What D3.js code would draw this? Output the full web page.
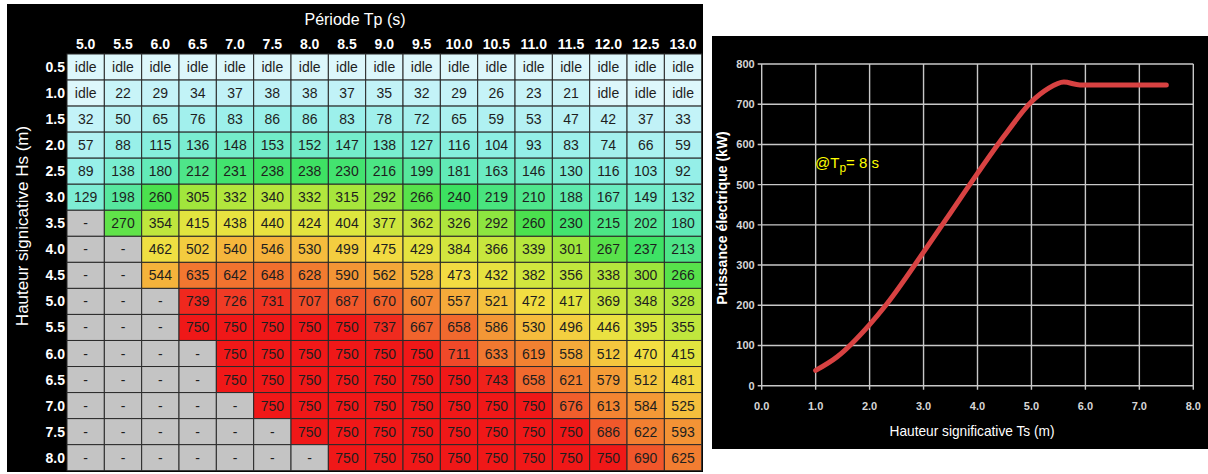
<!DOCTYPE html>
<html>
<head>
<meta charset="utf-8">
<script src="https://cdn.jsdelivr.net/npm/d3@7"></script>
<style>
  html, body { margin: 0; padding: 0; background: #ffffff; }
  svg { display: block; }
</style>
</head>
<body>
<svg id="chart" width="1208" height="474"></svg>
<script>
// ---------- DATA ----------
const periods = ["5.0","5.5","6.0","6.5","7.0","7.5","8.0","8.5","9.0","9.5","10.0","10.5","11.0","11.5","12.0","12.5","13.0"];
const heights = ["0.5","1.0","1.5","2.0","2.5","3.0","3.5","4.0","4.5","5.0","5.5","6.0","6.5","7.0","7.5","8.0"];
// "idle" = idle, "-" = not applicable
const powerRows = [
  ["idle","idle","idle","idle","idle","idle","idle","idle","idle","idle","idle","idle","idle","idle","idle","idle","idle"],
  ["idle",22,29,34,37,38,38,37,35,32,29,26,23,21,"idle","idle","idle"],
  [32,50,65,76,83,86,86,83,78,72,65,59,53,47,42,37,33],
  [57,88,115,136,148,153,152,147,138,127,116,104,93,83,74,66,59],
  [89,138,180,212,231,238,238,230,216,199,181,163,146,130,116,103,92],
  [129,198,260,305,332,340,332,315,292,266,240,219,210,188,167,149,132],
  ["-",270,354,415,438,440,424,404,377,362,326,292,260,230,215,202,180],
  ["-","-",462,502,540,546,530,499,475,429,384,366,339,301,267,237,213],
  ["-","-",544,635,642,648,628,590,562,528,473,432,382,356,338,300,266],
  ["-","-","-",739,726,731,707,687,670,607,557,521,472,417,369,348,328],
  ["-","-","-",750,750,750,750,750,737,667,658,586,530,496,446,395,355],
  ["-","-","-","-",750,750,750,750,750,750,711,633,619,558,512,470,415],
  ["-","-","-","-",750,750,750,750,750,750,750,743,658,621,579,512,481],
  ["-","-","-","-","-",750,750,750,750,750,750,750,750,676,613,584,525],
  ["-","-","-","-","-","-",750,750,750,750,750,750,750,750,686,622,593],
  ["-","-","-","-","-","-","-",750,750,750,750,750,750,750,750,690,625]
];

// Power curve at Tp = 8 s
const curveHs    = [1.0, 1.4, 2.0, 2.3, 3.0, 3.5, 4.0, 4.5, 5.0, 5.3, 5.6, 5.9, 6.5, 7.5];
const curvePower = [38,  72,  152, 200, 332, 430, 528, 622, 706, 738, 755, 748, 748, 748];
const powerTicks = [0,100,200,300,400,500,600,700,800];
const hsTicks    = [0,1,2,3,4,5,6,7,8];

// ---------- DRAW ----------
const svg = d3.select("#chart");
const font = "'Liberation Sans', Arial, sans-serif";

// ===== Left panel: table =====
svg.append("rect").attr("x", 7).attr("y", 4).attr("width", 696).attr("height", 468).attr("fill", "#000");

const colX = d3.scaleBand().domain(periods).range([67, 701.7]);
const rowY = d3.scaleBand().domain(heights).range([54, 470.7]);

const color = d3.scaleLinear()
  .domain([0, 40, 100, 180, 250, 300, 400, 470, 540, 630, 720, 750])
  .range(["#d4f6fa","#bff2f7","#8eefe6","#62eab8","#36e052","#9ee63c","#dce63e","#f2de42","#f5b63c","#f27a30","#f04428","#f01818"])
  .clamp(true);

const cells = [];
powerRows.forEach((row, i) => row.forEach((v, j) => cells.push({ hs: heights[i], tp: periods[j], v })));

const cellG = svg.append("g");
cellG.selectAll("rect").data(cells).join("rect")
  .attr("x", d => colX(d.tp))
  .attr("y", d => rowY(d.hs))
  .attr("width", colX.bandwidth())
  .attr("height", rowY.bandwidth())
  .attr("fill", d => d.v === "-" ? "#c4c4c4" : d.v === "idle" ? "#ddf7fb" : color(d.v))
  .attr("stroke", "#2a2a2a")
  .attr("stroke-width", 1);

cellG.selectAll("text").data(cells).join("text")
  .attr("x", d => colX(d.tp) + colX.bandwidth() / 2)
  .attr("y", d => rowY(d.hs) + rowY.bandwidth() / 2 + 5)
  .attr("text-anchor", "middle")
  .attr("font-family", font)
  .attr("font-size", 14)
  .attr("fill", "#1e1e1e")
  .text(d => d.v);

// column headers
svg.append("g").selectAll("text").data(periods).join("text")
  .attr("x", d => colX(d) + colX.bandwidth() / 2)
  .attr("y", 49)
  .attr("text-anchor", "middle")
  .attr("font-family", font)
  .attr("font-weight", "bold")
  .attr("font-size", 14)
  .attr("fill", "#ffffff")
  .text(d => d);

// row headers
svg.append("g").selectAll("text").data(heights).join("text")
  .attr("x", 65)
  .attr("y", d => rowY(d) + rowY.bandwidth() / 2 + 5)
  .attr("text-anchor", "end")
  .attr("font-family", font)
  .attr("font-weight", "bold")
  .attr("font-size", 14)
  .attr("fill", "#ffffff")
  .text(d => d);

svg.append("text")
  .attr("x", 355).attr("y", 25)
  .attr("text-anchor", "middle")
  .attr("font-family", font)
  .attr("font-size", 16)
  .attr("fill", "#ffffff")
  .text("Période Tp (s)");

svg.append("text")
  .attr("transform", "translate(28,226) rotate(-90)")
  .attr("text-anchor", "middle")
  .attr("font-family", font)
  .attr("font-size", 17)
  .attr("fill", "#ffffff")
  .text("Hauteur signicative Hs (m)");

// ===== Right panel: power curve =====
svg.append("rect").attr("x", 712).attr("y", 36).attr("width", 496).attr("height", 413).attr("fill", "#000");

const x = d3.scaleLinear().domain([0, 8]).range([761.7, 1193.3]);
const y = d3.scaleLinear().domain([0, 800]).range([385.7, 64]);

const grid = svg.append("g");
grid.selectAll("line.h").data(powerTicks).join("line")
  .attr("class", "h")
  .attr("x1", x(0) - 4).attr("x2", x(8))
  .attr("y1", d => y(d)).attr("y2", d => y(d))
  .attr("stroke", "#c8c8c8").attr("stroke-width", 1.4);
grid.selectAll("line.v").data(hsTicks).join("line")
  .attr("class", "v")
  .attr("x1", d => x(d)).attr("x2", d => x(d))
  .attr("y1", y(800)).attr("y2", y(0) + 4)
  .attr("stroke", "#c8c8c8").attr("stroke-width", 1.4);

svg.append("g").selectAll("text").data(powerTicks).join("text")
  .attr("x", x(0) - 7)
  .attr("y", d => y(d) + 4)
  .attr("text-anchor", "end")
  .attr("font-family", font)
  .attr("font-weight", "bold")
  .attr("font-size", 11)
  .attr("fill", "#d6d6d6")
  .text(d => d);

svg.append("g").selectAll("text").data(hsTicks).join("text")
  .attr("x", d => x(d))
  .attr("y", 410)
  .attr("text-anchor", "middle")
  .attr("font-family", font)
  .attr("font-weight", "bold")
  .attr("font-size", 11)
  .attr("fill", "#d6d6d6")
  .text(d => d3.format(".1f")(d));

const line = d3.line()
  .x((d, i) => x(curveHs[i]))
  .y(d => y(d))
  .curve(d3.curveMonotoneX);

svg.append("path")
  .datum(curvePower)
  .attr("d", line)
  .attr("fill", "none")
  .attr("stroke", "#d84242")
  .attr("stroke-width", 5)
  .attr("stroke-linecap", "round")
  .attr("stroke-linejoin", "round");

svg.append("text")
  .attr("x", 972).attr("y", 436)
  .attr("text-anchor", "middle")
  .attr("font-family", font)
  .attr("font-size", 15)
  .attr("textLength", 165)
  .attr("lengthAdjust", "spacingAndGlyphs")
  .attr("fill", "#ffffff")
  .text("Hauteur significative Ts (m)");

svg.append("text")
  .attr("transform", "translate(727,218) rotate(-90)")
  .attr("text-anchor", "middle")
  .attr("font-family", font)
  .attr("font-weight", "bold")
  .attr("font-size", 14)
  .attr("fill", "#ffffff")
  .text("Puissance électrique (kW)");

const ann = svg.append("text")
  .attr("x", 815).attr("y", 168)
  .attr("font-family", font)
  .attr("font-size", 15)
  .attr("fill", "#ffff00");
ann.append("tspan").text("@T");
ann.append("tspan").attr("dy", 4).attr("font-size", 12).text("p");
ann.append("tspan").attr("dy", -4).text("= 8 s");
</script>
</body>
</html>
